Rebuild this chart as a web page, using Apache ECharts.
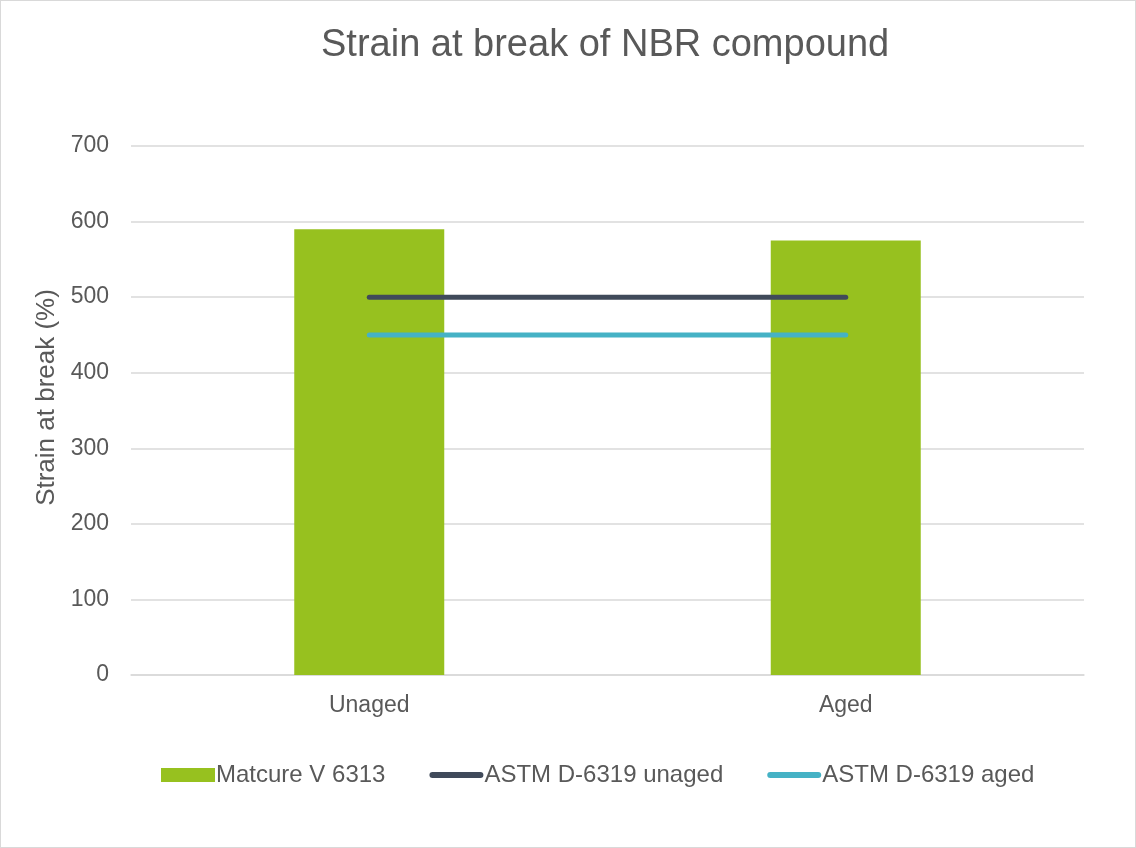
<!DOCTYPE html>
<html>
<head>
<meta charset="utf-8">
<script src="https://cdn.jsdelivr.net/npm/echarts@6/dist/echarts.min.js"></script>
<style>
  html, body { margin: 0; padding: 0; background: #fff; }
  #container { width: 1136px; height: 848px; box-sizing: border-box; border: 1px solid #d9d9d9; }
</style>
</head>
<body>
<div id="container"></div>
<script>
var categories = ['Unaged', 'Aged'];
var matcure = [590, 575];
var astmUnaged = [500, 500];
var astmAged = [450, 450];
var yTicks = [0, 700, 100];

var dom = document.getElementById('container');
var myChart = echarts.init(dom);
var font = 'Liberation Sans, Arial, sans-serif';
var lineIcon = 'path://M3,0h47a3,3,0,0,1,0,6h-47a3,3,0,0,1,0,-6z';

var option = {
    animation: false,
    title: {
        text: 'Strain at break of NBR compound',
        left: 315,
        top: 21,
        textStyle: { color: '#595959', fontSize: 38, fontWeight: 'normal', fontFamily: font }
    },
    legend: {
        top: 757,
        left: 155,
        itemGap: 44,
        itemWidth: 54,
        itemHeight: 14,
        symbolKeepAspect: true,
        textStyle: { color: '#595959', fontSize: 24, fontFamily: font, padding: [0, 0, 0, -4] },
        data: [
            { name: 'Matcure V 6313', icon: 'rect' },
            { name: 'ASTM D-6319 unaged', icon: lineIcon },
            { name: 'ASTM D-6319 aged', icon: lineIcon }
        ]
    },
    grid: { left: 130, right: 51, top: 145, bottom: 172 },
    xAxis: {
        type: 'category',
        data: categories,
        axisLine: { lineStyle: { color: '#d9d9d9', width: 1.5 } },
        axisTick: { show: false },
        axisLabel: { color: '#595959', fontSize: 23, fontFamily: font, margin: 19 }
    },
    yAxis: {
        type: 'value',
        min: yTicks[0],
        max: yTicks[1],
        interval: yTicks[2],
        name: 'Strain at break (%)',
        nameLocation: 'middle',
        nameGap: 71,
        nameTextStyle: { color: '#595959', fontSize: 26, fontFamily: font, padding: [0, 0, 0, 26] },
        axisLine: { show: false },
        axisTick: { show: false },
        splitLine: { lineStyle: { color: '#d9d9d9', width: 1.5 } },
        axisLabel: { color: '#595959', fontSize: 23, fontFamily: font, margin: 22 }
    },
    series: [
        {
            name: 'Matcure V 6313',
            type: 'bar',
            data: matcure,
            barWidth: 150,
            itemStyle: { color: '#97c11f' }
        },
        {
            name: 'ASTM D-6319 unaged',
            type: 'line',
            data: astmUnaged,
            symbol: 'none',
            itemStyle: { color: '#404a5a' },
            lineStyle: { color: '#404a5a', width: 5, cap: 'round' }
        },
        {
            name: 'ASTM D-6319 aged',
            type: 'line',
            data: astmAged,
            symbol: 'none',
            itemStyle: { color: '#45b2c5' },
            lineStyle: { color: '#45b2c5', width: 5, cap: 'round' }
        }
    ]
};

myChart.setOption(option);
</script>
</body>
</html>
